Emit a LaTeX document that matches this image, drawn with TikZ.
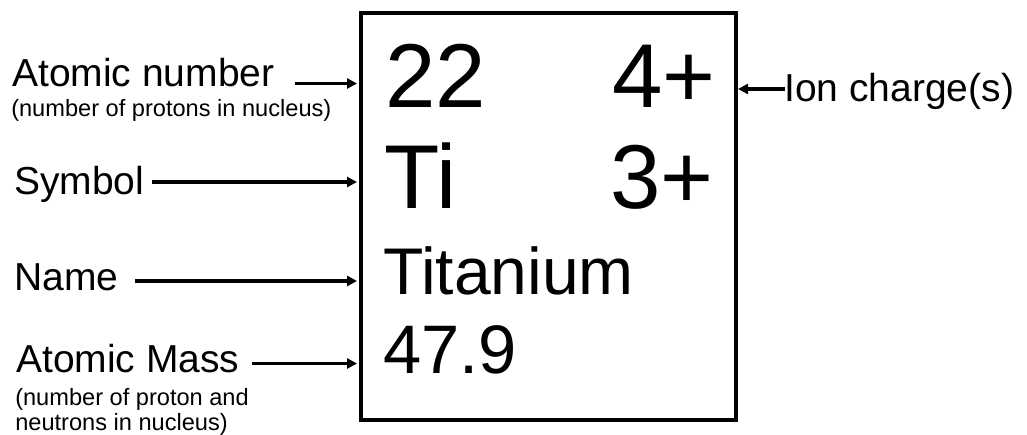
\documentclass[tikz,border=0pt]{standalone}
\usepackage{fontspec}
\setmainfont{Liberation Sans}
\usetikzlibrary{arrows.meta}
\begin{document}
\begin{tikzpicture}[x=0.75pt,y=-0.75pt,
  lab/.style={anchor=base west,inner sep=0pt,font=\fontsize{29.25pt}{34pt}\selectfont},
  small/.style={anchor=base west,inner sep=0pt,font=\fontsize{17.7pt}{21pt}\selectfont},
  big/.style={anchor=base west,inner sep=0pt,font=\fontsize{68pt}{80pt}\selectfont},
  mid/.style={anchor=base west,inner sep=0pt,font=\fontsize{50pt}{60pt}\selectfont},
  arr/.style={line width=2.5pt,-{Triangle[length=7.5pt,width=7.5pt]}}]
\useasboundingbox (0,0) rectangle (1027,435);
% element box
\node (box) [draw,line width=3pt,inner sep=0pt,minimum width=281.25pt,minimum height=305.25pt] at (548.5,216.5) {};
% box contents
\node (num) [big] at (385,107) {22};
\node (ch4) [big] at (612,107) {4+};
\node (sym) [big] at (384,208) {Ti};
\node (ch3) [big] at (610,208) {3+};
\node (name) [mid,font=\fontsize{49.5pt}{60pt}\selectfont] at (383,294) {Titanium};
\node (mass) [mid,font=\fontsize{51.5pt}{60pt}\selectfont] at (383,373) {47.9};
% labels
\node (lnum) [lab] at (12,87) {Atomic number};
\node (lnums) [small] at (11,116) {(number of protons in nucleus)};
\node (lsym) [lab] at (14,194) {Symbol};
\node (lname) [lab] at (14,290) {Name};
\node (lmass) [lab] at (16,372) {Atomic Mass};
\node (lmass1) [small] at (15,405) {(number of proton and};
\node (lmass2) [small] at (15,430) {neutrons in nucleus)};
\node (lion) [lab] at (784,101) {Ion charge(s)};
% arrow tails
\coordinate (t1) at (295,83.5);
\coordinate (t2) at (152,182);
\coordinate (t3) at (135,281);
\coordinate (t4) at (252,363.5);
\coordinate (t5) at (785,89);
\draw[arr,shorten >=1.5pt] (t1) -- (t1 -| box.west);
\draw[arr,shorten >=1.5pt] (t2) -- (t2 -| box.west);
\draw[arr,shorten >=1.5pt] (t3) -- (t3 -| box.west);
\draw[arr,shorten >=1.5pt] (t4) -- (t4 -| box.west);
\draw[arr] (t5) -- (t5 -| box.east);
\end{tikzpicture}
\end{document}
